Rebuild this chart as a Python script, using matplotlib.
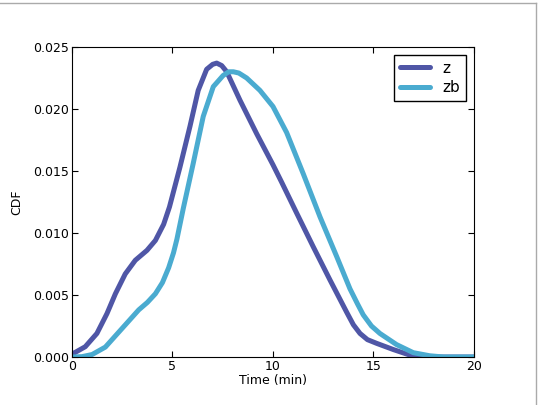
import matplotlib
matplotlib.use('Agg')
import matplotlib.pyplot as plt
from matplotlib.lines import Line2D

# values
t_z = [0.0, 0.08, 0.66, 1.24, 1.74, 2.16, 2.65, 3.15, 3.73, 4.15, 4.56, 4.85,
       5.37, 5.87, 6.28, 6.7, 7.0, 7.2, 7.45, 7.7, 8.36, 9.19, 10.0, 10.43,
       11.18, 12.0, 12.84, 13.67, 14.0, 14.33, 14.7, 15.16, 15.99, 16.8, 17.8, 20.0]
cdf_z = [0.0003, 0.0003, 0.00083, 0.0019, 0.0035, 0.0051, 0.0067, 0.0078,
         0.0086, 0.0094, 0.0107, 0.0121, 0.0153, 0.0186, 0.0215, 0.0232,
         0.0236, 0.0237, 0.0235, 0.0230, 0.0207, 0.0180, 0.0155, 0.0141,
         0.0116, 0.0089, 0.0062, 0.0036, 0.0026, 0.0019, 0.0014, 0.0011,
         0.0006, 0.00016, 0.0, 0.0]

t_zb = [0.0, 0.5, 1.0, 1.66, 2.49, 3.32, 3.75, 4.15, 4.5, 4.81, 5.05, 5.22,
        5.54, 6.03, 6.53, 7.03, 7.52, 7.8, 8.03, 8.3, 8.69, 9.35, 10.0, 10.68,
        11.5, 12.34, 13.17, 13.83, 14.2, 14.49, 14.9, 15.32, 16.15, 16.98,
        17.8, 18.5, 20.0]
cdf_zb = [0.0, 0.00003, 0.0002, 0.0008, 0.0023, 0.0038, 0.0044, 0.0051,
          0.0060, 0.0072, 0.0084, 0.0095, 0.0120, 0.0156, 0.0194, 0.0218,
          0.0227, 0.0230, 0.0230, 0.0229, 0.0225, 0.0215, 0.0202, 0.0181,
          0.0148, 0.0113, 0.0081, 0.0055, 0.0043, 0.0034, 0.0025, 0.0019,
          0.0010, 0.00035, 0.0001, 0.0, 0.0]

c_z = '#4f56a6'
c_zb = '#4aabd0'

fig = plt.figure(figsize=(5.38, 4.05), dpi=100)
ax = fig.add_axes([0.1338, 0.1185, 0.7472, 0.7655])

ax.plot(t_z, cdf_z, color=c_z, lw=3.6, label='z',
        solid_capstyle='round', solid_joinstyle='round')
ax.plot(t_zb, cdf_zb, color=c_zb, lw=3.6, label='zb',
        solid_capstyle='round', solid_joinstyle='round')

ax.set_xlim(0, 20)
ax.set_ylim(0, 0.025)
ax.set_xticks([0, 5, 10, 15, 20])
ax.set_yticks([0, 0.005, 0.010, 0.015, 0.020, 0.025])
ax.set_yticklabels(['0.000', '0.005', '0.010', '0.015', '0.020', '0.025'])
ax.tick_params(direction='in', top=True, right=True, length=4, labelsize=9, pad=2)
ax.set_xlabel('Time (min)', fontsize=9, labelpad=1)
ax.set_ylabel('CDF', fontsize=9, labelpad=7)

leg = ax.legend(loc='upper right', fontsize=11, fancybox=False, framealpha=1,
                handlelength=2.0, borderpad=0.4, labelspacing=0.3)
leg.get_frame().set_edgecolor('black')
leg.get_frame().set_linewidth(1.0)

# thin grey frame at the top and right edges of the picture
fig.add_artist(Line2D([535.5 / 538, 535.5 / 538], [0, 1 - 3 / 405],
                      transform=fig.transFigure, color='#aaaaaa', lw=1))
fig.add_artist(Line2D([0, 535.5 / 538], [1 - 3 / 405, 1 - 3 / 405],
                      transform=fig.transFigure, color='#aaaaaa', lw=1))

fig.savefig('out.png', dpi=100)
